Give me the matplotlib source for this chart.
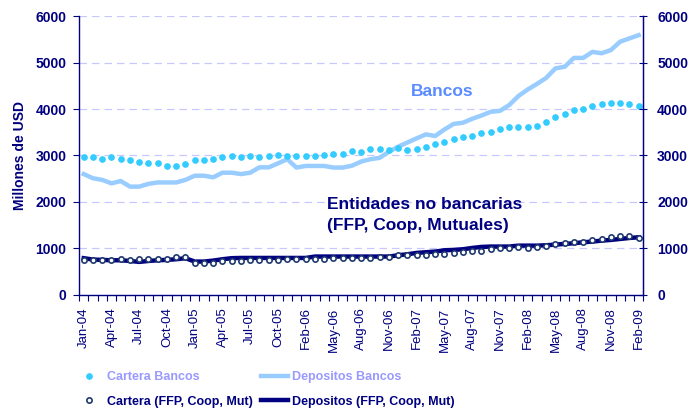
import matplotlib
matplotlib.use('Agg')
import matplotlib.pyplot as plt
from matplotlib.ticker import MultipleLocator, FixedLocator
import numpy as np

# Datos mensuales Jan-04 .. Feb-09 (61 puntos)
cartera_bancos = [2960, 2960, 2920, 2960, 2920, 2900, 2850, 2830, 2830, 2780,
                  2780, 2820, 2900, 2900, 2920, 2960, 2980, 2960, 2980, 2960,
                  2980, 3010, 2980, 2980, 2980, 2980, 3010, 3030, 3030, 3100,
                  3080, 3130, 3130, 3120, 3170, 3120, 3150, 3190, 3250, 3300,
                  3350, 3390, 3420, 3480, 3500, 3560, 3610, 3610, 3610, 3640,
                  3730, 3820, 3890, 3980, 4010, 4065, 4100, 4120, 4120, 4100,
                  4065]
depositos_bancos = [2600, 2510, 2475, 2400, 2450, 2330, 2330, 2390, 2420, 2420,
                    2420, 2475, 2565, 2565, 2530, 2630, 2630, 2600, 2630, 2745,
                    2745, 2830, 2920, 2740, 2775, 2775, 2775, 2740, 2740, 2780,
                    2870, 2920, 2950, 3080, 3190, 3280, 3370, 3455, 3420, 3560,
                    3680, 3705, 3790, 3860, 3940, 3960, 4085, 4280, 4420, 4540,
                    4670, 4875, 4910, 5100, 5100, 5230, 5200, 5270, 5450, 5520,
                    5590]
cartera_ffp = [753, 753, 753, 753, 775, 753, 775, 780, 780, 780,
               810, 810, 690, 690, 690, 725, 725, 725, 745, 745,
               745, 745, 765, 765, 775, 775, 775, 795, 795, 795,
               800, 800, 825, 825, 853, 860, 860, 860, 890, 890,
               910, 925, 955, 955, 980, 1000, 1000, 1025, 1000, 1025,
               1060, 1090, 1110, 1147, 1147, 1183, 1210, 1240, 1260, 1260,
               1233]
depositos_ffp = [790, 760, 753, 745, 745, 730, 710, 730, 745, 753,
                 767, 790, 717, 717, 738, 767, 790, 795, 795, 795,
                 795, 795, 795, 795, 795, 825, 825, 825, 825, 825,
                 825, 825, 825, 825, 853, 875, 903, 918, 932, 960,
                 968, 982, 1010, 1032, 1040, 1040, 1040, 1060, 1060, 1060,
                 1068, 1082, 1097, 1111, 1133, 1147, 1168, 1183, 1204, 1225,
                 1240]
tick_labels = ['Jan-04', 'Apr-04', 'Jul-04', 'Oct-04', 'Jan-05', 'Apr-05', 'Jul-05',
               'Oct-05', 'Feb-06', 'May-06', 'Aug-06', 'Nov-06', 'Feb-07', 'May-07',
               'Aug-07', 'Nov-07', 'Feb-08', 'May-08', 'Aug-08', 'Nov-08', 'Feb-09']

NAVY = '#000080'
plt.rcParams['font.family'] = ['Liberation Sans', 'DejaVu Sans']

x = np.arange(len(depositos_bancos))

fig = plt.figure(figsize=(6.88, 4.13), dpi=100)
ax = fig.add_axes([0.115, 0.286, 0.82, 0.675])

ax.yaxis.grid(True, color='#C8C8FF', linestyle=(0, (6, 4)), linewidth=0.9)
ax.set_axisbelow(True)

l_dep_b, = ax.plot(x, depositos_bancos, color='#99CCFF', lw=3.2)
l_car_b, = ax.plot(x, cartera_bancos, ls='none', marker='o', ms=3.8,
                   color='#33CCFF', mec='#33CCFF')
l_dep_f, = ax.plot(x, depositos_ffp, color=NAVY, lw=3.2)
l_car_f, = ax.plot(x, cartera_ffp, ls='none', marker='o', ms=3.8,
                   mfc='white', mec='#1F3A6E', mew=1.2)

ax.set_xlim(-0.5, len(x) - 0.5)
ax.set_ylim(0, 6000)
ax.yaxis.set_major_locator(MultipleLocator(1000))

ax.set_xticks(np.arange(0, len(x), 3))
ax.set_xticklabels(tick_labels, rotation=90, color=NAVY, fontsize=9.5)
ax.xaxis.set_minor_locator(FixedLocator(np.arange(-0.5, len(x), 1)))
ax.tick_params(axis='x', which='major', length=0, pad=9)
ax.tick_params(axis='x', which='minor', length=4, color=NAVY, width=0.8)
ax.tick_params(axis='y', length=4, color=NAVY, labelcolor=NAVY, width=0.8, pad=5)
for t in ax.get_yticklabels():
    t.set_fontweight('bold')
    t.set_fontsize(10)

ax.spines['top'].set_visible(False)
for side in ['left', 'right', 'bottom']:
    ax.spines[side].set_color(NAVY)
    ax.spines[side].set_linewidth(1.0)

ax.set_ylabel('Millones de USD', color=NAVY, fontweight='bold', fontsize=10, labelpad=6)

ax2 = ax.twinx()
ax2.set_ylim(0, 6000)
ax2.yaxis.set_major_locator(MultipleLocator(1000))
ax2.tick_params(axis='y', direction='inout', length=6, color=NAVY, labelcolor=NAVY,
                width=0.8, pad=7)
for t in ax2.get_yticklabels():
    t.set_fontweight('bold')
    t.set_fontsize(10)
for side in ['top', 'left', 'bottom']:
    ax2.spines[side].set_visible(False)
ax2.spines['right'].set_color(NAVY)

ax.text(0.644, 0.73, 'Bancos', transform=ax.transAxes, color='#5A8CFF',
        fontsize=12.5, fontweight='bold', ha='center', va='center')
ax.text(0.44, 0.287, 'Entidades no bancarias\n(FFP, Coop, Mutuales)', transform=ax.transAxes,
        color=NAVY, fontsize=12.5, fontweight='bold', ha='left', va='center', linespacing=1.5)

leg = fig.legend([l_car_b, l_car_f, l_dep_b, l_dep_f],
                 ['Cartera Bancos', 'Cartera (FFP, Coop, Mut)',
                  'Depositos Bancos', 'Depositos (FFP, Coop, Mut)'],
                 ncol=2, loc='center', bbox_to_anchor=(0.385, 0.057), frameon=False,
                 prop={'weight': 'bold', 'size': 9},
                 handlelength=2.2, columnspacing=0.65, labelspacing=1.0, handletextpad=0.3)
text_colors = ['#9999FF', NAVY, '#9999FF', NAVY]
for t, c in zip(leg.get_texts(), text_colors):
    t.set_color(c)

fig.savefig('out.png', dpi=100)
